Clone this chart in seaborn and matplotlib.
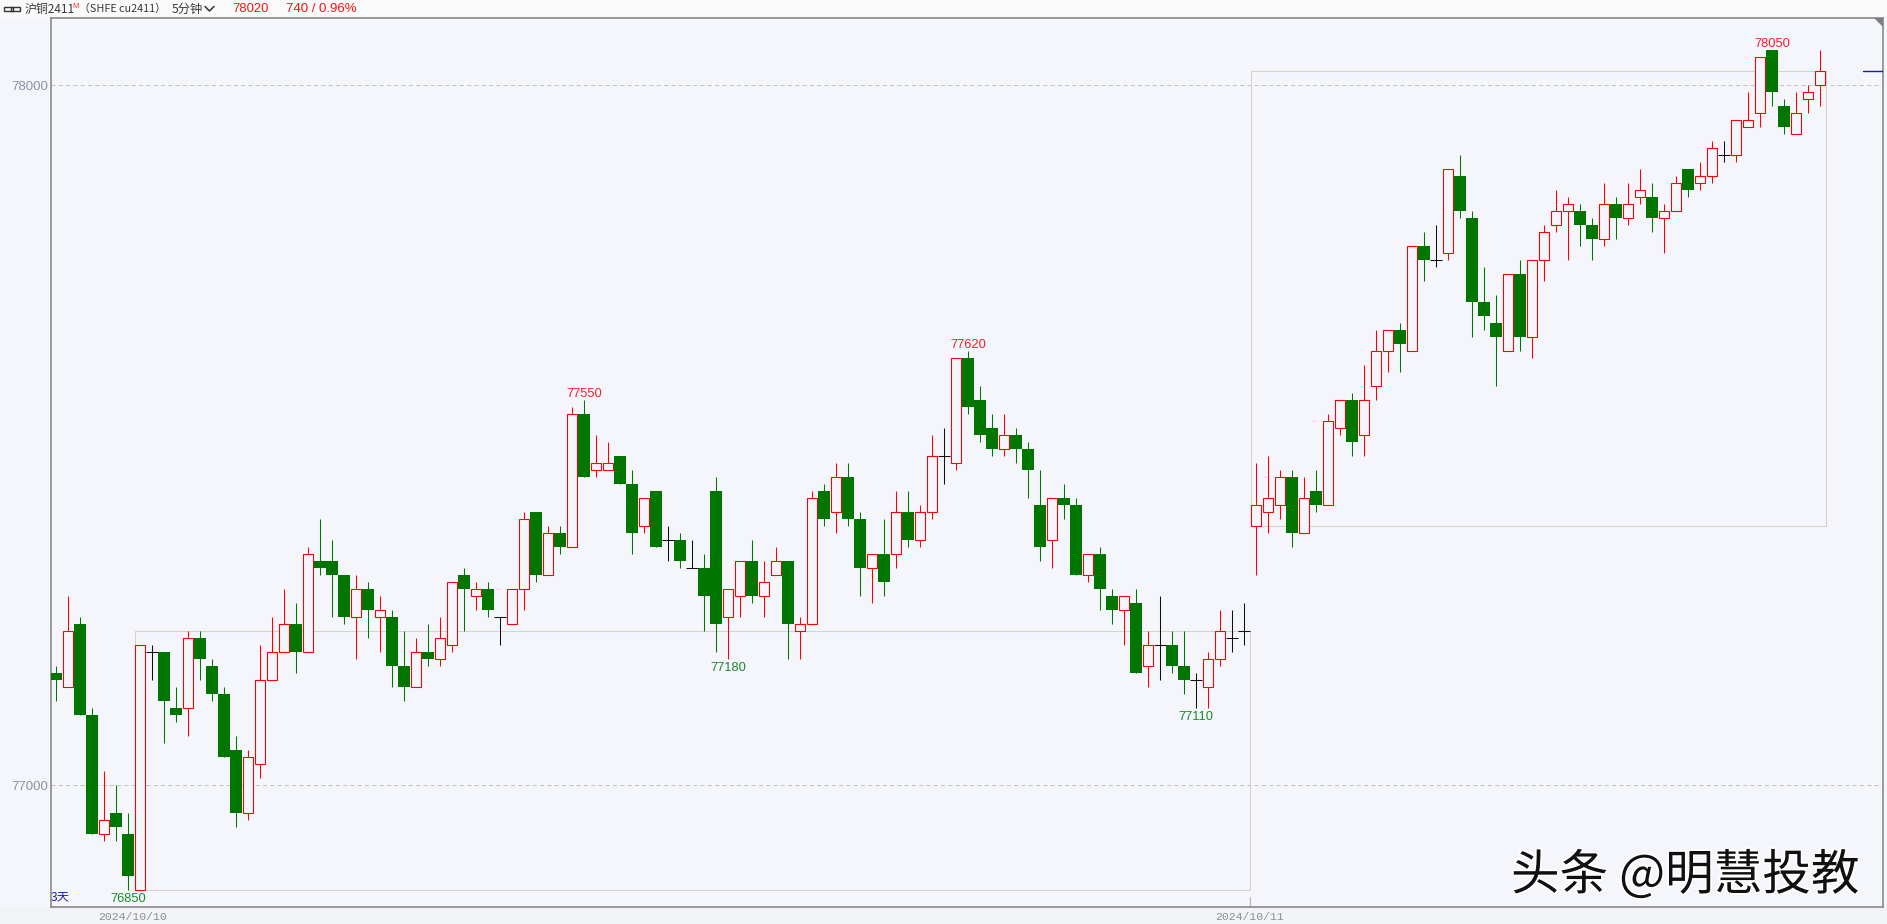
import numpy as np
import pandas as pd
import matplotlib
matplotlib.use("Agg")
import matplotlib.pyplot as plt
import matplotlib.patheffects as pe
from matplotlib.patches import Rectangle, Polygon
from matplotlib.lines import Line2D
import seaborn as sns

# top of body, bottom of body, high, low, for each 5-minute candle
body_top = [77160,77220,77230,77100,76950,76960,76930,77200,77190,77190,
            77110,77210,77210,77170,77130,77050,77040,77150,77190,77230,
            77230,77330,77320,77320,77300,77280,77280,77250,77240,77170,
            77190,77190,77210,77290,77300,77280,77280,77240,77280,77380,
            77390,77360,77360,77530,77530,77460,77460,77470,77430,77410,
            77420,77350,77350,77310,77310,77420,77280,77320,77320,77290,
            77320,77320,77230,77410,77420,77440,77440,77380,77330,77330,
            77390,77390,77390,77470,77470,77610,77610,77550,77510,77500,
            77500,77480,77400,77410,77410,77400,77330,77330,77270,77270,
            77260,77200,77200,77200,77170,77150,77180,77220,77210,77220,
            77400,77410,77440,77440,77410,77420,77520,77550,77550,77550,
            77620,77650,77650,77770,77770,77750,77880,77870,77810,77690,
            77660,77730,77730,77750,77790,77820,77830,77820,77800,77830,
            77830,77830,77850,77840,77820,77860,77880,77870,77910,77900,
            77950,77950,78040,78050,77970,77960,77990,78020]
body_bot = [77150,77140,77100,76930,76930,76940,76870,76850,77190,77120,
            77100,77110,77180,77130,77040,76960,76960,77030,77150,77190,
            77190,77190,77310,77300,77240,77240,77250,77240,77170,77140,
            77140,77180,77180,77200,77280,77270,77250,77240,77230,77280,
            77300,77300,77340,77340,77440,77450,77450,77430,77360,77370,
            77340,77350,77320,77310,77270,77230,77240,77270,77270,77270,
            77300,77230,77220,77230,77380,77390,77380,77310,77310,77290,
            77330,77350,77350,77390,77470,77460,77540,77500,77480,77480,
            77480,77450,77340,77350,77400,77300,77300,77280,77250,77250,
            77160,77170,77200,77170,77150,77150,77140,77180,77210,77220,
            77370,77390,77400,77360,77360,77400,77400,77510,77490,77500,
            77570,77620,77630,77620,77750,77750,77760,77820,77690,77670,
            77640,77620,77640,77640,77750,77800,77820,77800,77780,77780,
            77810,77810,77840,77810,77810,77820,77850,77860,77870,77900,
            77900,77940,77960,77990,77940,77930,77980,78000]
high = [77170,77270,77240,77110,77020,77000,76960,77200,77200,77190,
        77140,77220,77220,77180,77140,77070,77050,77200,77240,77280,
        77260,77340,77380,77350,77300,77300,77290,77270,77250,77220,
        77210,77230,77240,77290,77310,77290,77290,77240,77280,77390,
        77390,77370,77370,77540,77550,77500,77490,77470,77450,77410,
        77420,77370,77360,77350,77330,77440,77280,77320,77350,77320,
        77340,77320,77240,77420,77430,77460,77460,77390,77330,77380,
        77420,77420,77400,77500,77510,77610,77620,77570,77530,77530,
        77510,77490,77450,77410,77430,77410,77330,77340,77280,77270,
        77280,77220,77270,77220,77220,77160,77190,77250,77250,77260,
        77460,77470,77450,77450,77440,77450,77530,77550,77560,77600,
        77650,77650,77660,77770,77790,77800,77880,77900,77820,77740,
        77700,77730,77750,77750,77800,77850,77840,77830,77810,77860,
        77840,77860,77880,77860,77830,77870,77880,77890,77920,77920,
        77950,77990,78040,78050,77980,77990,78000,78050]
low = [77120,77140,77100,76930,76920,76920,76850,76850,77150,77060,
       77090,77070,77150,77120,77040,76940,76950,77010,77150,77190,
       77160,77190,77300,77240,77230,77180,77210,77190,77140,77120,
       77140,77170,77170,77190,77220,77250,77240,77200,77230,77250,
       77290,77300,77330,77340,77440,77440,77450,77430,77330,77360,
       77340,77320,77310,77310,77220,77190,77180,77240,77260,77240,
       77300,77180,77180,77230,77370,77360,77370,77270,77260,77270,
       77310,77340,77340,77380,77430,77450,77530,77490,77470,77470,
       77460,77410,77320,77310,77380,77300,77290,77250,77230,77200,
       77160,77140,77150,77160,77130,77110,77110,77170,77190,77200,
       77300,77360,77380,77340,77360,77390,77400,77500,77470,77470,
       77550,77590,77590,77620,77720,77740,77750,77810,77640,77650,
       77570,77620,77620,77610,77720,77790,77750,77770,77750,77770,
       77780,77800,77830,77790,77760,77820,77840,77850,77860,77890,
       77890,77940,77940,77970,77930,77930,77960,77970]
# candle kind: R rising, G falling, K unchanged
kinds = list("GRGGRGGRKG" "GRGGGGRRRR" "GRGGGRGRGG" "RGRRGRGKRR" "GRGRGRRGGR"
             "GKGKGGRRGR" "RGRRGRGGRG" "RGRRKRGGGR" "GGGRGGRGGR" "GRKGGKRRKK"
             "RRRGRGRRGR" "RRGRGKRGGG" "GRGRRRRGGR" "GRRGRRGRRK" "RRRGGRRR")

price_ticks = [78000, 77000]
price_tick_labels = ["78000", "77000"]
date_labels = ["2024/10/10", "2024/10/11"]
date_label_pos = [6.4, 99.45]
extreme_idx = [44, 76, 143, 6, 56, 95]
extreme_val = [77550, 77620, 78050, 76850, 77180, 77110]
extreme_col = ["#ff1a2a", "#ff1a2a", "#ff1a2a", "#1a8a2a", "#1a8a2a", "#1a8a2a"]
day_first = [7, 100]
day_last = [99, 147]

W, H = 1887, 924
BG = "#f5f6fb"
RED, GREEN, BLACK = "#ff0000", "#007500", "#101010"

df = pd.DataFrame({"i": np.arange(len(high)), "top": body_top, "bot": body_bot,
                   "high": high, "low": low, "kind": kinds})
wicks = df.melt(id_vars=["i", "kind"], value_vars=["high", "low"], value_name="price")

sns.set_theme(style="white", rc={"figure.facecolor": BG, "axes.facecolor": BG})
plt.rcParams["font.family"] = ["Noto Sans CJK SC", "DejaVu Sans"]

fig = plt.figure(figsize=(W / 100, H / 100), dpi=100, facecolor=BG)
L, R, T, B = 51.0, 1883.0, 17.5, 906.5
ax = fig.add_axes([L / W, 1 - B / H, (R - L) / W, (B - T) / H])
x0, dx = 56.0, 12.0        # pixel of candle 0, pixels per candle
ax.set_xlim((L - x0) / dx, (R - x0) / dx)
yp = lambda px: 78000 - (px - 85.5) / 0.7
ax.set_ylim(yp(B), yp(T))
ax.set_facecolor(BG)

# header strip and bottom strip
fig.add_artist(Rectangle((0, 1 - 16.5 / H), 1, 16.5 / H, transform=fig.transFigure, fc="#fafafb", ec="none", zorder=-1))
fig.add_artist(Rectangle((0, 0), 1, 17 / H, transform=fig.transFigure, fc="#f2f3f7", ec="none", zorder=-1))

# dashed price grid
for p in price_ticks:
    ax.axhline(p, color="#c4c4c4", lw=0.75, ls=(0, (4, 3)), zorder=1)

# day range boxes
for a, b in zip(day_first, day_last):
    lo, hi = df.bot[a], df.top[b]
    ax.add_patch(Rectangle((a - 0.45, lo), b - a + 0.95, hi - lo, fill=False,
                           ec="#d4d4cc", lw=0.8, zorder=1.5))

# wicks through seaborn
for kind, col in zip("RGK", (RED, GREEN, BLACK)):
    sub = wicks[wicks.kind == kind]
    sns.lineplot(data=sub, x="i", y="price", units="i", estimator=None, color=col,
                 lw=0.75, ax=ax, legend=False, zorder=2, sort=False, solid_capstyle="butt")
ax.set_xlabel("")
ax.set_ylabel("")
ax.set_xlim((L - x0) / dx, (R - x0) / dx)
ax.set_ylim(yp(B), yp(T))

# bodies
up = df[df.kind == "R"]
ax.bar(up.i, up.top - up.bot, bottom=up.bot, width=0.84, facecolor=BG, edgecolor=RED, lw=0.78, zorder=3)
dn = df[df.kind == "G"]
ax.bar(dn.i, dn.top - dn.bot, bottom=dn.bot, width=0.92, facecolor=GREEN, edgecolor=GREEN, lw=0, zorder=3)
fl = df[df.kind == "K"]
ax.hlines(fl.top, fl.i - 0.46, fl.i + 0.46, color=BLACK, lw=0.75, zorder=3)

# frame
for s in ("top", "left", "right", "bottom"):
    ax.spines[s].set_color("#8a8a8a")
    ax.spines[s].set_linewidth(1.2)
ax.set_xticks([])
ax.set_yticks([])

# tick labels as text
lab_font = ["Liberation Sans", "Noto Sans CJK SC"]
for p, t in zip(price_ticks, price_tick_labels):
    ax.annotate(t, (L / W, p), xycoords=("figure fraction", "data"), xytext=(-2.0, -0.9),
                textcoords="offset points", ha="right", va="center", fontsize=9.5,
                color="#8a93a3", family=lab_font, annotation_clip=False)
for xpos, t in zip(date_label_pos, date_labels):
    ax.annotate(t, (xpos, 0), xycoords=("data", "figure fraction"), xytext=(0, 7.0 * 0.72),
                textcoords="offset points", ha="center", va="center", fontsize=8.2,
                color="#8d8d96", family="Liberation Mono", annotation_clip=False)
ax.plot([(1249.8 - x0) / dx] * 2, [yp(B), yp(897)], color="#b8b8b8", lw=0.8, zorder=2)

# extreme labels
for idx, val, col in zip(extreme_idx, extreme_val, extreme_col):
    above = val == df.high[idx]
    ax.annotate(str(val), (idx, val), xytext=(0, 4.9 if above else -5.9), textcoords="offset points",
                ha="center", va="center", fontsize=9.3, color=col, family=lab_font, zorder=6)

# last price tick at right
ax.plot([(1863 - x0) / dx, (R - x0) / dx], [df.top.iloc[-1]] * 2, color="#1c1c9a", lw=1.0, zorder=4)

# corner wedge
fig.add_artist(Polygon([(1874 / W, 1 - 17.5 / H), (R / W, 1 - 17.5 / H), (R / W, 1 - 27 / H)],
                       transform=fig.transFigure, fc="#808080", ec="none", zorder=5))


def fig_text(px, py, s, **kw):
    kw.setdefault("va", "center")
    return fig.text(px / W, 1 - py / H, s, **kw)


# header
hdr = "#3a3a3a"
fig_text(25, 9, "沪铜2411", fontsize=8.6, color=hdr, family=["Noto Sans CJK SC", "DejaVu Sans"])
fig_text(72.5, 7, "M", fontsize=5.5, color="#ff3030", family="Liberation Sans")
fig_text(79, 9, "（SHFE cu2411）", fontsize=7.8, color=hdr, family=["Noto Sans CJK SC"], ha="left")
fig_text(171.5, 9, "5分钟", fontsize=8.8, color=hdr, family=["Noto Sans CJK SC"])
fig.add_artist(Line2D([205 / W, 209.5 / W, 214 / W], [1 - 6.5 / H, 1 - 11 / H, 1 - 6.5 / H], color="#333333", lw=1.1))
fig_text(232.5, 9, "78020", fontsize=9.4, color="#ff1010", family="Liberation Sans")
fig_text(286, 9, "740 / 0.96%", fontsize=9.5, color="#ff1010", family="Liberation Sans")
# link icon
for cx in (8.5, 15.5):
    fig.add_artist(Rectangle(((cx - 4.5) / W, 1 - 10.5 / H), 9 / W, 4 / H, transform=fig.transFigure,
                             fill=False, ec="#333333", lw=1.0))
# days
fig_text(51, 897, "3天", fontsize=8.8, color="#2020c0", family=["Noto Sans CJK SC"], zorder=6)

# watermark
fig_text(1511, 876, "头条 @明慧投教", fontsize=35, color="#101010", family=["Noto Sans CJK SC"], zorder=7,
         path_effects=[pe.withStroke(linewidth=2.5, foreground="white")])

fig.savefig("out.png", dpi=100, facecolor=BG)
